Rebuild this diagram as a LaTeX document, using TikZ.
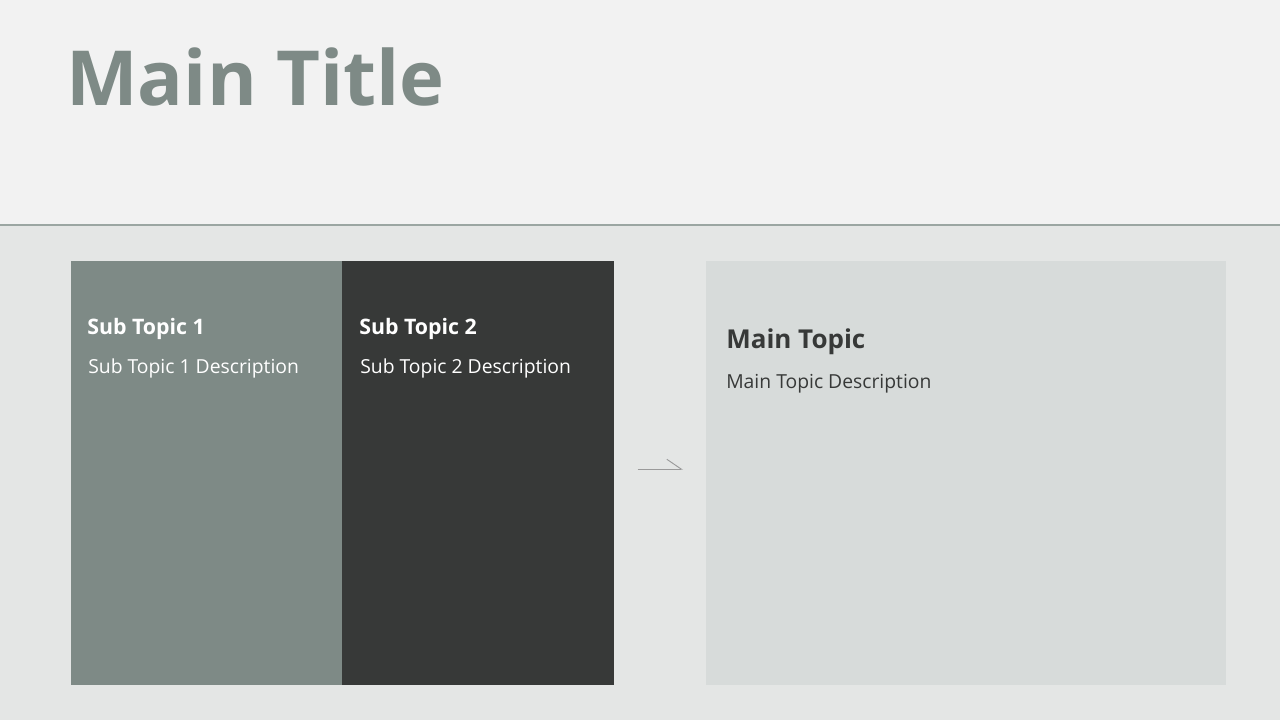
\documentclass[tikz,border=0pt]{standalone}
\usepackage{fontspec}
\setmainfont{Open Sans}
\usepackage{tikz}
\usetikzlibrary{arrows.meta}

\definecolor{topbg}{HTML}{F2F2F2}
\definecolor{lowbg}{HTML}{E4E6E5}
\definecolor{sage}{HTML}{7E8A86}
\definecolor{charcoal}{HTML}{373938}
\definecolor{mist}{HTML}{D7DBDA}
\definecolor{rule}{HTML}{9BA6A2}
\definecolor{pointer}{HTML}{9A9A9A}

\begin{document}
\begin{tikzpicture}[x=0.75pt, y=-0.75pt,
    box/.style={anchor=north west, inner sep=0pt, minimum height=318pt},
    head/.style={anchor=base west, inner sep=0pt, font=\fontsize{16pt}{19pt}\selectfont\bfseries},
    desc/.style={anchor=base west, inner sep=0pt, font=\fontsize{14.5pt}{17pt}\selectfont}]
    % backdrop
    \useasboundingbox (0, 0) rectangle (1280, 720);
    \fill[topbg] (-10, -10) rectangle (1290, 225);
    \fill[lowbg] (-10, 225) rectangle (1290, 730);
    \draw[rule, line width=0.9pt] (-10, 225) -- (1290, 225);

    \node[anchor=base west, inner sep=0pt, text=sage, font=\fontsize{57pt}{66pt}\selectfont\bfseries] (title) at (66, 106) {Main Title};

    \node[box, fill=sage, minimum width=203.25pt] (sub1) at (71, 261) {};
    \node[box, fill=charcoal, minimum width=204pt] (sub2) at (342, 261) {};
    \node[box, fill=mist, minimum width=390pt] (main) at (706, 261) {};

    \node[head, text=white] (sub1head) at ([shift={(16, 73)}]sub1.north west) {Sub Topic 1};
    \node[desc, text=white] (sub1desc) at ([shift={(17, 112)}]sub1.north west) {Sub Topic 1 Description};
    \node[head, text=white] (sub2head) at ([shift={(17, 73)}]sub2.north west) {Sub Topic 2};
    \node[desc, text=white] (sub2desc) at ([shift={(18, 112)}]sub2.north west) {Sub Topic 2 Description};
    \node[head, text=charcoal, font=\fontsize{19.5pt}{23pt}\selectfont\bfseries] (mainhead) at ([shift={(20, 87)}]main.north west) {Main Topic};
    \node[desc, text=charcoal] (maindesc) at ([shift={(20, 127)}]main.north west) {Main Topic Description};

    \draw[pointer, line width=0.7pt, -{Straight Barb[left, length=11pt, width=15pt]}]
        ([shift={(23, -4)}]sub2.east) -- ([shift={(-23, -4)}]main.west);
\end{tikzpicture}
\end{document}
